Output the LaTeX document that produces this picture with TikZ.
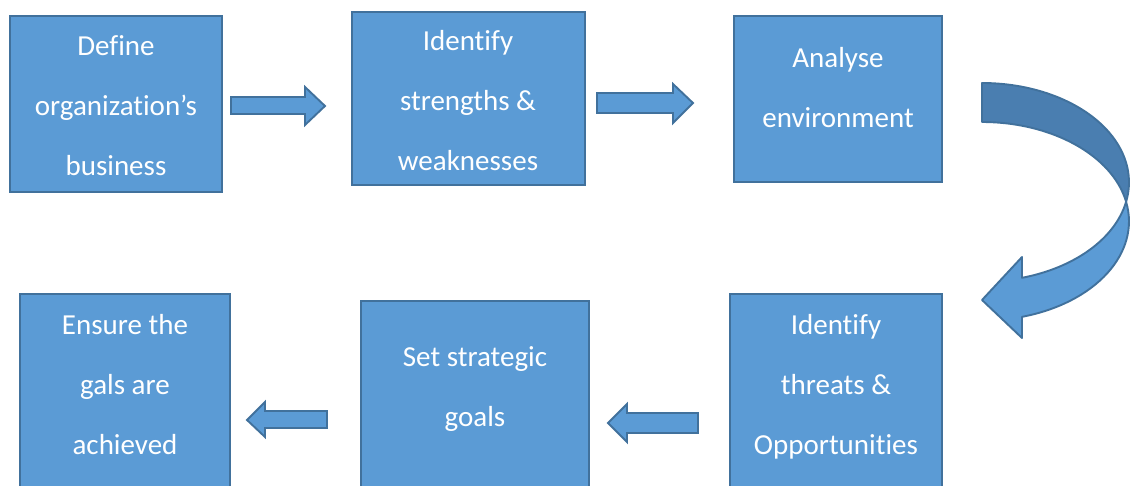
\documentclass[tikz,border=0pt]{standalone}
\usepackage{fontspec}
\setmainfont{Carlito}[Ligatures={NoCommon}]
\begin{document}
\begin{tikzpicture}[x=1pt, y=-1pt,
  boxfill/.style={fill={rgb,255:red,91;green,155;blue,213}},
  boxline/.style={draw={rgb,255:red,65;green,113;blue,156}},
  stepbox/.style={boxfill, boxline, line width=2pt, rectangle, inner sep=0pt},
  steptext/.style={text=white, align=center, anchor=base, inner sep=0pt,
    font=\fontsize{29}{60}\selectfont},
  blockarrow/.style={boxfill, boxline, line width=1.9pt, line join=miter},
  backband/.style={fill={rgb,255:red,74;green,126;blue,176}, boxline, line width=1.9pt, line join=round}]

\clip (0,0) rectangle (1130,486);

% process steps
\node[stepbox, minimum width=212pt, minimum height=176pt] (define)   at (116,104)   {};
\node[stepbox, minimum width=233pt, minimum height=173pt] (strength) at (468.5,98.5) {};
\node[stepbox, minimum width=208pt, minimum height=166pt] (analyse)  at (838,99)    {};
\node[stepbox, minimum width=212pt, minimum height=206pt] (threats)  at (836,397)   {};
\node[stepbox, minimum width=228pt, minimum height=199pt] (goals)    at (475,400.5) {};
\node[stepbox, minimum width=210pt, minimum height=206pt] (ensure)   at (125,397)   {};

% step labels (anchored on the baseline of the last line)
\node[steptext] (tdefine)   at (116,176) {Define\\organization’s\\business};
\node[steptext] (tstrength) at (468,171) {Identify\\strengths \&\\weaknesses};
\node[steptext] (tanalyse)  at (838,128) {Analyse\\environment};
\node[steptext] (tthreats)  at (836,454) {Identify\\threats \&\\Opportunities};
\node[steptext] (tgoals)    at (475,426) {Set strategic\\goals};
\node[steptext] (tensure)   at (125,454) {Ensure the\\gals are\\achieved};

% straight block arrows
\draw[blockarrow] (231,97) -- (305,97) -- (305,87) -- (325,106) -- (305,125) -- (305,114) -- (231,114) -- cycle;
\draw[blockarrow] (597,93) -- (673,93) -- (673,84) -- (693,103) -- (673,123) -- (673,113) -- (597,113) -- cycle;
\draw[blockarrow] (698,413) -- (627,413) -- (627,404) -- (608,423) -- (627,442) -- (627,433) -- (698,433) -- cycle;
\draw[blockarrow] (327,411) -- (265,411) -- (265,402) -- (247,420) -- (265,437) -- (265,428) -- (327,428) -- cycle;

% curved arrow: back band
\draw[backband] (982,83)
  arc[start angle=-90, end angle=11.33, x radius=147, y radius=99.3]
  arc[start angle=-11.33, end angle=-90, x radius=147, y radius=99.3]
  -- cycle;
% curved arrow: front band with head
\draw[blockarrow, line join=round] (1126.1,201.8)
  arc[start angle=-11.33, end angle=74.2, x radius=147, y radius=99.3]
  -- (1022,338) -- (982,300) -- (1022,257) -- (1022,277.8)
  arc[start angle=74.2, end angle=11.33, x radius=147, y radius=99.3]
  -- cycle;
\end{tikzpicture}
\end{document}
